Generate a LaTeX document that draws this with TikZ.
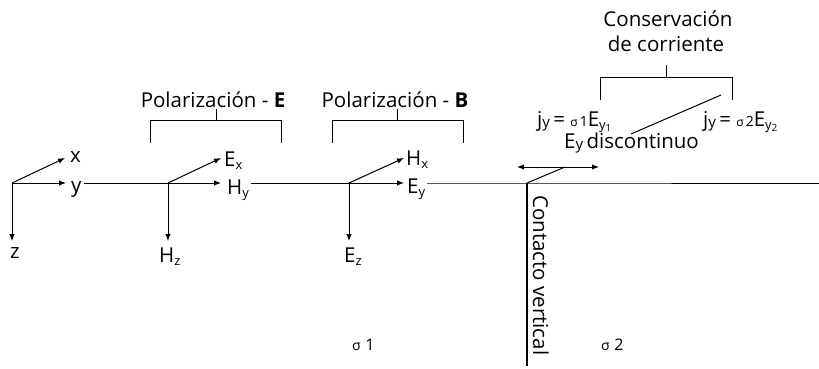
\documentclass[tikz,border=0pt]{standalone}
\usepackage{fontspec}
\setmainfont{Open Sans}
\usetikzlibrary{arrows.meta}
\newcommand{\sbs}[1]{\raisebox{-0.3ex}{\fontsize{13}{14}\selectfont #1}}
\newcommand{\jsbs}[1]{\raisebox{-0.1ex}{\fontsize{15}{16}\selectfont #1}}
\newcommand{\ssbs}[1]{\raisebox{-0.3ex}{\fontsize{10}{11}\selectfont #1}}
\newcommand{\smallsig}[1]{{\fontsize{12}{12}\selectfont σ\,\fontsize{14}{14}\selectfont #1}}
\newcommand{\regsig}[1]{{\fontsize{14}{14}\selectfont σ\,\,\fontsize{16}{16}\selectfont #1}}
\begin{document}
\begin{tikzpicture}[x=1pt,y=-1pt,
  lbl/.style={font=\fontsize{20.5}{24}\selectfont, inner sep=0pt},
  gaplbl/.style={lbl, inner xsep=2pt},
  vec/.style={-{Latex[length=7pt,width=5.5pt]}, line width=1pt},
  ln/.style={line width=1pt},
  thickln/.style={line width=1.7pt},
  brk/.style={line width=1pt}]
\useasboundingbox (0,0) rectangle (819,369);

% --- coordinates of origins and arrow tips
\coordinate (O1) at (12,183);
\coordinate (O2) at (168,183);
\coordinate (O3) at (349,183);
\coordinate (Pc) at (527,183);
\coordinate (Rend) at (819,183);
\coordinate (Bot) at (527,366);

\coordinate (t1x) at (65,158);
\coordinate (t1y) at (66,183);
\coordinate (t1z) at (12,241);
\coordinate (t2x) at (221,158);
\coordinate (t2y) at (221,183);
\coordinate (t2z) at (168,241);
\coordinate (t3x) at (404,158);
\coordinate (t3y) at (404,183);
\coordinate (t3z) at (349,241);

% --- labels
\node[lbl, anchor=base west] (lx) at (70,162) {x};
\node[gaplbl, anchor=base west] (ly) at (69,192) {y};
\node[lbl, anchor=base west] (lz) at (10,258) {z};
\node[lbl, anchor=base west] (lEx) at (224,166) {E\sbs{x}};
\node[gaplbl, anchor=base west] (lHy) at (225,194) {H\sbs{y}};
\node[lbl, anchor=base west] (lHz) at (159,262) {H\sbs{z}};
\node[lbl, anchor=base west] (lHx) at (406,165) {H\sbs{x}};
\node[gaplbl, anchor=base west] (lEy) at (405,193) {E\sbs{y}};
\node[lbl, anchor=base west] (lEz) at (344,262) {E\sbs{z}};

% --- axes triad
\draw[vec] (O1) -- (t1x);
\draw[vec] (O1) -- (t1y);
\draw[vec] (O1) -- (t1z);
\draw[vec] (O2) -- (t2x);
\draw[vec] (O2) -- (t2y);
\draw[vec] (O2) -- (t2z);
\draw[vec] (O3) -- (t3x);
\draw[vec] (O3) -- (t3y);
\draw[vec] (O3) -- (t3z);

% --- main horizontal line
\draw[ln] (ly.east |- O1) -- (O2);
\draw[ln] (lHy.east |- O1) -- (O3);
\draw[ln] (lEy.east |- O1) -- (Pc) -- (Rend);

% --- vertical contact
\draw[thickln] (Pc) -- (Bot);
\node[lbl, anchor=base west, rotate=-90] (lcv) at (533,195) {Contacto vertical};

% --- E_y discontinuo
\coordinate (dk) at (565,167);
\coordinate (dl) at (517,167);
\coordinate (dr) at (599,167);
\draw[ln] (Pc) -- (dk);
\draw[ln, {Latex[length=7pt,width=5.5pt]}-{Latex[length=7pt,width=5.5pt]}] (dl) -- (dr);
\node[lbl, anchor=base west] (ldis) at (564,148) {E\jsbs{y}\,discontinuo};

% --- Polarización E bracket
\node[lbl, anchor=base] (lpe) at (213,107) {Polarización - \textbf{E}};
\coordinate (pe1) at (150,143); \coordinate (pe2) at (150,120);
\coordinate (pe3) at (281,120); \coordinate (pe4) at (281,143);
\coordinate (pes) at (216,120); \coordinate (pet) at (216,109);
\draw[brk] (pe1) -- (pe2) -- (pe3) -- (pe4);
\draw[brk] (pes) -- (pet);

% --- Polarización B bracket
\node[lbl, anchor=base] (lpb) at (395,107) {Polarización - \textbf{B}};
\coordinate (pb1) at (332,143); \coordinate (pb2) at (332,120);
\coordinate (pb3) at (463,120); \coordinate (pb4) at (463,143);
\coordinate (pbs) at (397,120); \coordinate (pbt) at (397,109);
\draw[brk] (pb1) -- (pb2) -- (pb3) -- (pb4);
\draw[brk] (pbs) -- (pbt);

% --- Conservación de corriente
\node[lbl, anchor=base] (lcons) at (668,27) {Conservación};
\node[lbl, anchor=base] (lcorr) at (666,52) {de corriente};
\coordinate (cb1) at (600,100); \coordinate (cb2) at (600,77);
\coordinate (cb3) at (732,77); \coordinate (cb4) at (732,100);
\coordinate (cbs) at (666,77); \coordinate (cbt) at (666,65);
\draw[brk] (cb1) -- (cb2) -- (cb3) -- (cb4);
\draw[brk] (cbs) -- (cbt);

\node[lbl, anchor=base west] (lj1) at (537,126) {j\jsbs{y}\,= \smallsig{1}E\sbs{y\ssbs{1}}};
\node[lbl, anchor=base west] (lj2) at (703,126) {j\jsbs{y}\,= \smallsig{2}E\sbs{y\ssbs{2}}};
\coordinate (sl1) at (631,134);
\coordinate (sl2) at (721,95);
\draw[ln] (sl1) -- (sl2);

% --- conductivities
\node[lbl, anchor=base west] (s1) at (352,350) {\regsig{1}};
\node[lbl, anchor=base west] (s2) at (601,350) {\regsig{2}};
\end{tikzpicture}
\end{document}
